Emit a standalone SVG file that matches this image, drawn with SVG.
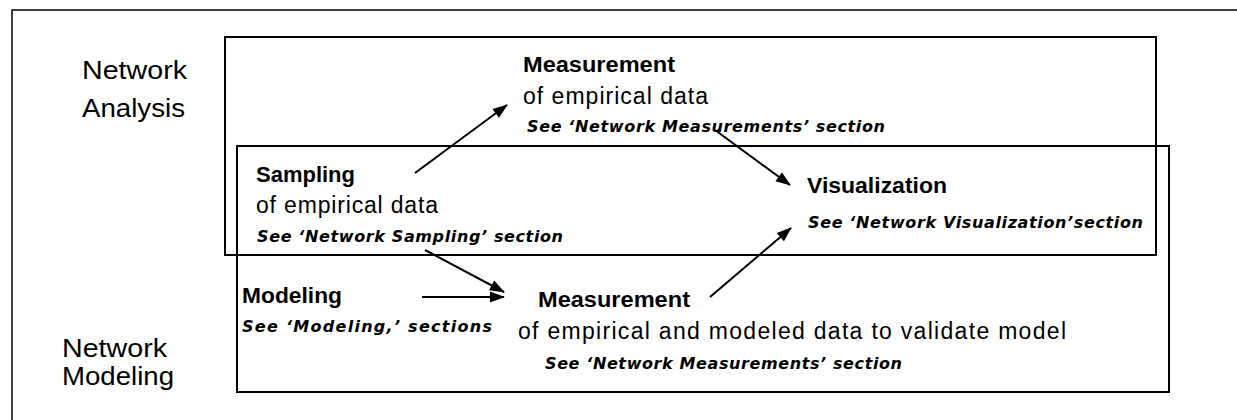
<svg xmlns="http://www.w3.org/2000/svg" width="1237" height="420" viewBox="0 0 1237 420">
  <defs>
    <marker id="head" viewBox="0 0 15 11" refX="14" refY="5.5" markerWidth="15" markerHeight="11" markerUnits="userSpaceOnUse" orient="auto" overflow="visible">
      <path d="M0,0 L15,5.5 L0,11 z" fill="#000"/>
    </marker>
    <style>
      text { font-family: "Liberation Sans", Arial, sans-serif; fill: #000; }
      .side { font-size: 25px; }
      .title { font-size: 22px; font-weight: bold; }
      .body { font-size: 23px; }
      .ref { font-family: "DejaVu Sans", "Liberation Sans", sans-serif; font-size: 16px; font-weight: bold; font-style: italic; }
      .frame { fill: none; stroke: #000; stroke-width: 2; }
      .edge { fill: none; stroke: #000; stroke-width: 2; marker-end: url(#head); }
    </style>
  </defs>
  <rect width="1237" height="420" fill="#fff"/>

  <!-- page frame -->
  <path d="M12,420 V10 H1237" fill="none" stroke="#000" stroke-width="1.5"/>

  <!-- region boxes -->
  <g id="analysis-box">
    <rect class="frame" x="225" y="37" width="931" height="218"/>
  </g>
  <g id="modeling-box">
    <rect class="frame" x="237" y="146" width="932" height="246"/>
  </g>

  <!-- side labels -->
  <g id="label-analysis">
    <text class="side" x="82" y="79" textLength="105" lengthAdjust="spacingAndGlyphs">Network</text>
    <text class="side" x="82" y="117" textLength="103" lengthAdjust="spacingAndGlyphs">Analysis</text>
  </g>
  <g id="label-modeling">
    <text class="side" x="62" y="357" textLength="105" lengthAdjust="spacingAndGlyphs">Network</text>
    <text class="side" x="62" y="385" textLength="112" lengthAdjust="spacingAndGlyphs">Modeling</text>
  </g>

  <!-- nodes -->
  <g id="measurement-empirical">
    <text class="title" x="523" y="72" textLength="152" lengthAdjust="spacingAndGlyphs">Measurement</text>
    <text class="body" x="523" y="104" textLength="185" lengthAdjust="spacing">of empirical data</text>
    <text class="ref" x="527" y="132" textLength="358" lengthAdjust="spacing">See  ‘Network Measurements’ section</text>
  </g>
  <g id="sampling">
    <text class="title" x="256" y="182" textLength="99" lengthAdjust="spacingAndGlyphs">Sampling</text>
    <text class="body" x="256" y="213" textLength="182" lengthAdjust="spacing">of empirical data</text>
    <text class="ref" x="257" y="242" textLength="306" lengthAdjust="spacing">See  ‘Network Sampling’ section</text>
  </g>
  <g id="visualization">
    <text class="title" x="807" y="193" textLength="140" lengthAdjust="spacingAndGlyphs">Visualization</text>
    <text class="ref" x="808" y="228" textLength="335" lengthAdjust="spacing">See  ‘Network Visualization’section</text>
  </g>
  <g id="modeling">
    <text class="title" x="242" y="303" textLength="100" lengthAdjust="spacingAndGlyphs">Modeling</text>
    <text class="ref" x="242" y="332" textLength="250" lengthAdjust="spacing">See  ‘Modeling,’ sections</text>
  </g>
  <g id="measurement-validation">
    <text class="title" x="538" y="307" textLength="152" lengthAdjust="spacingAndGlyphs">Measurement</text>
    <text class="body" x="518" y="339" textLength="548" lengthAdjust="spacing">of empirical and modeled data to validate model</text>
    <text class="ref" x="545" y="369" textLength="357" lengthAdjust="spacing">See  ‘Network Measurements’ section</text>
  </g>

  <!-- connectors -->
  <g id="connectors">
    <line class="edge" x1="415" y1="173" x2="507" y2="105"/>
    <line class="edge" x1="715" y1="130" x2="790" y2="185"/>
    <line class="edge" x1="425" y1="250" x2="504" y2="292"/>
    <line class="edge" x1="422" y1="297" x2="504" y2="297"/>
    <line class="edge" x1="710" y1="297" x2="791" y2="228"/>
  </g>
</svg>
